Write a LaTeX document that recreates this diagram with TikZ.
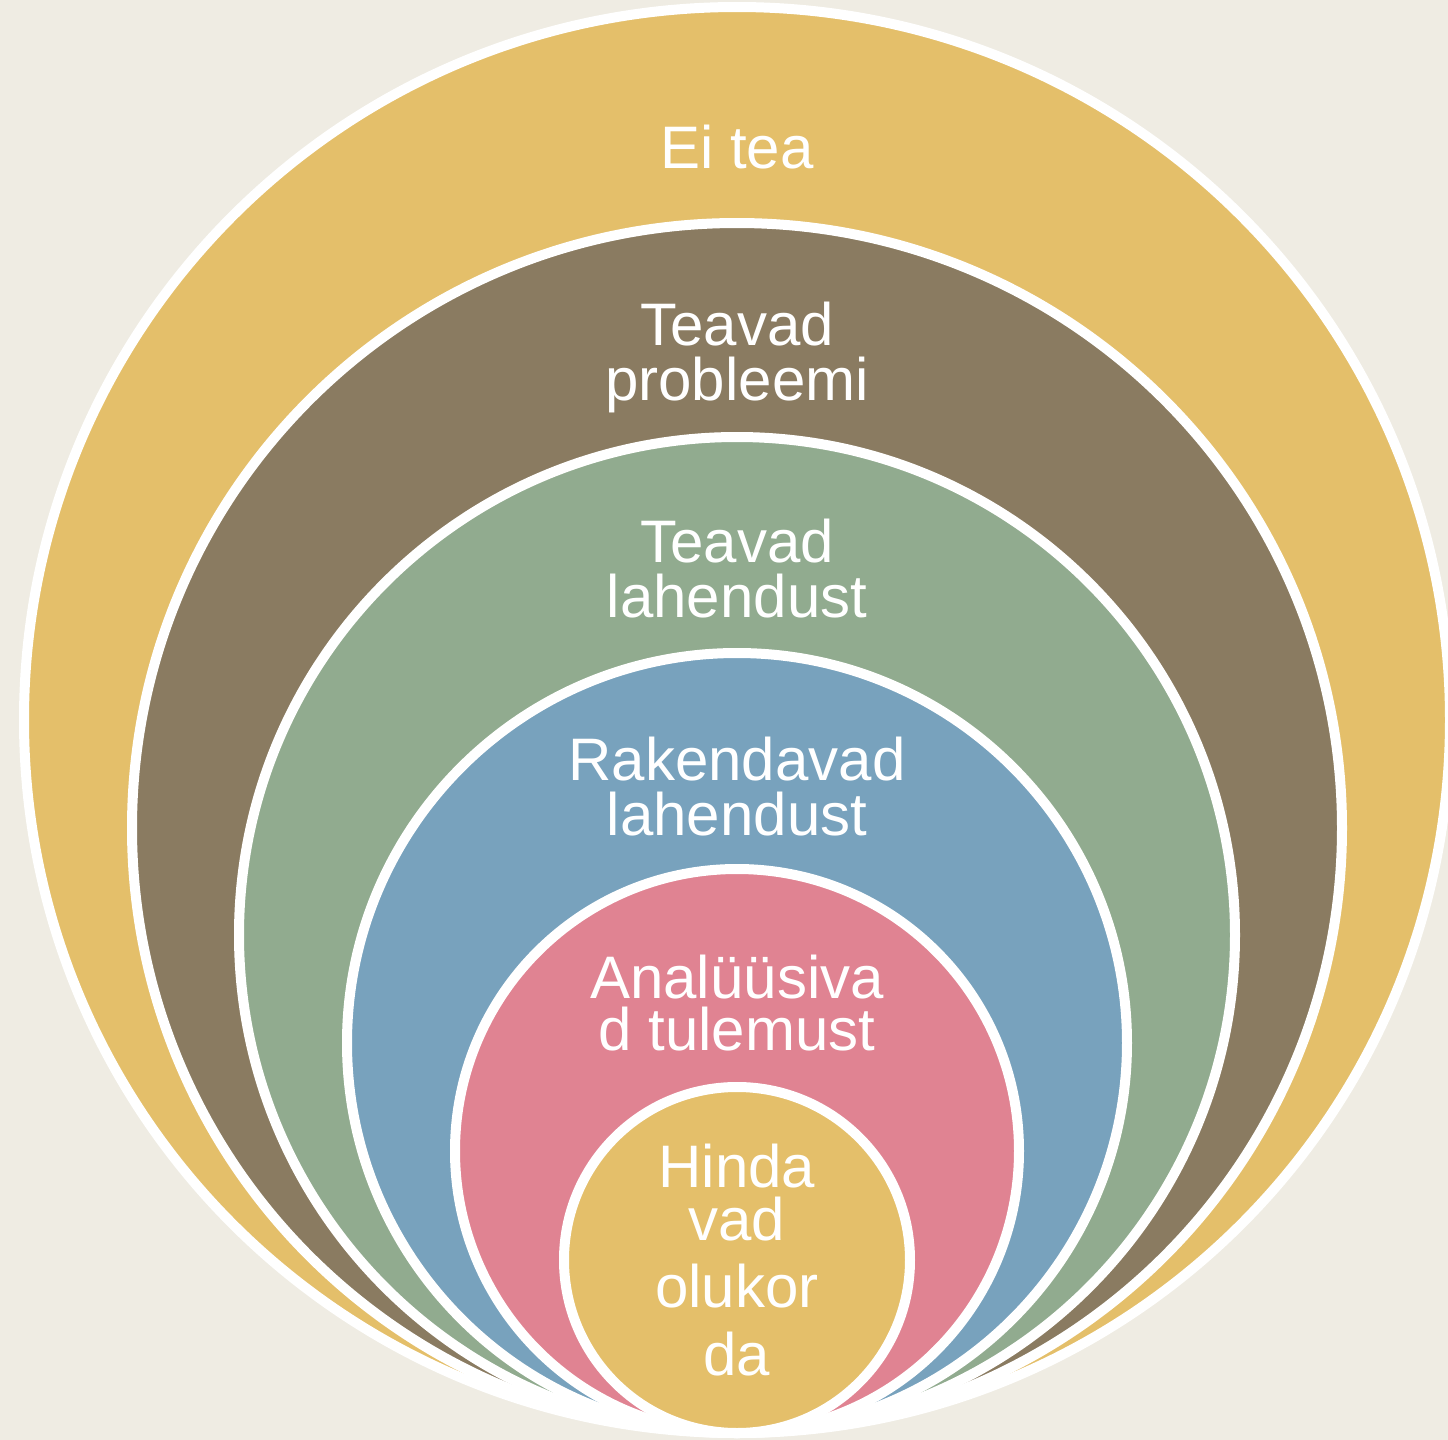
\documentclass[tikz,border=0pt]{standalone}
\usepackage{fontspec}
\setmainfont{Liberation Sans}
\definecolor{bg}{HTML}{EFECE3}
\definecolor{cyel}{HTML}{E4BF6A}
\definecolor{cbrn}{HTML}{8A7B61}
\definecolor{cgrn}{HTML}{91AB8F}
\definecolor{cblu}{HTML}{78A2BD}
\definecolor{cpnk}{HTML}{E08392}
\begin{document}
\begin{tikzpicture}[x=0.5pt,y=-0.5pt,
 ring/.style={circle, draw=white, line width=5pt, inner sep=0pt, outer sep=0pt},
 lbl/.style={text=white, font=\fontsize{30}{27.5}\selectfont, anchor=base, inner sep=0pt}]
\fill[bg] (0,0) rectangle (1448,1440);
\useasboundingbox (0,0) rectangle (1448,1440);
\node[ring, fill=cyel, minimum size=713pt] (c1) at (737,720) {};
\node[ring, fill=cbrn, minimum size=605pt] (c2) at (737,828) {};
\node[ring, fill=cgrn, minimum size=498pt] (c3) at (737,935) {};
\node[ring, fill=cblu, minimum size=390pt] (c4) at (737,1043) {};
\node[ring, fill=cpnk, minimum size=282pt] (c5) at (737,1151) {};
\node[ring, fill=cyel, minimum size=173pt] (c6) at (737,1260) {};
\node[lbl] (t1) at (737,168) {Ei tea};
\node[lbl] (t2a) at (737,345) {Teavad};
\node[lbl] (t2b) at (737,400) {probleemi};
\node[lbl] (t3a) at (737,562) {Teavad};
\node[lbl] (t3b) at (737,617) {lahendust};
\node[lbl] (t4a) at (737,780) {Rakendavad};
\node[lbl] (t4b) at (737,835) {lahendust};
\node[lbl] (t5a) at (737,998) {Analüüsiva};
\node[lbl] (t5b) at (737,1050) {d tulemust};
\node[lbl] (t6a) at (737,1187) {Hinda};
\node[lbl] (t6b) at (737,1240) {vad};
\node[lbl] (t6c) at (737,1307) {olukor};
\node[lbl] (t6d) at (737,1375) {da};
\end{tikzpicture}
\end{document}
